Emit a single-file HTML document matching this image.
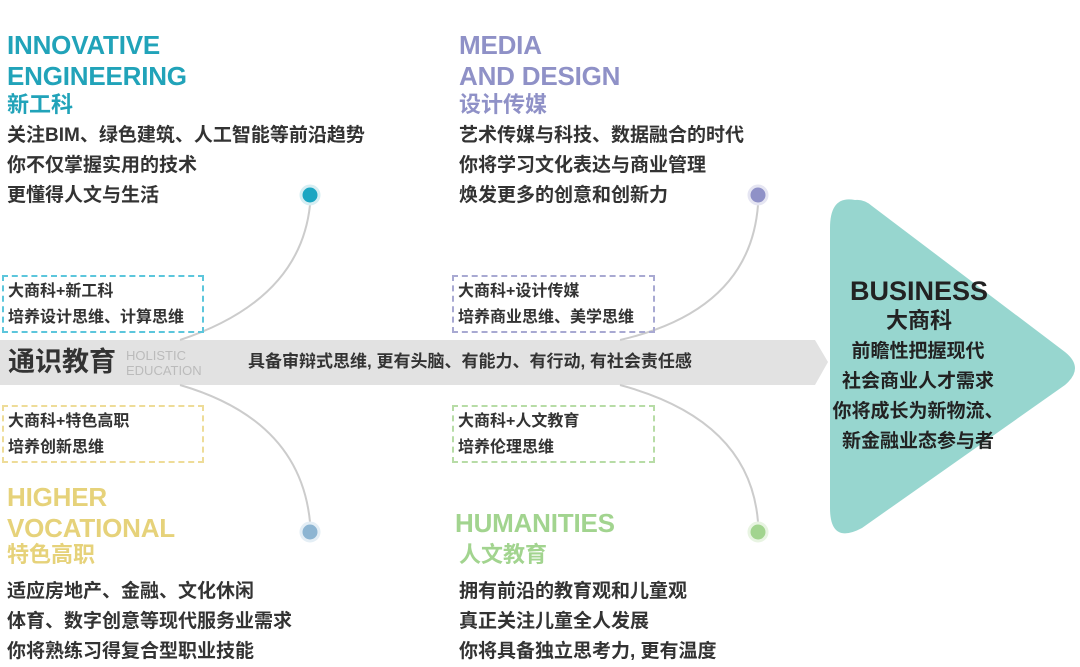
<!DOCTYPE html>
<html><head><meta charset="utf-8"><style>
body{margin:0;width:1080px;height:663px;background:#fff;position:relative;overflow:hidden;font-family:"Liberation Sans","Noto Sans CJK SC",sans-serif}
.a{position:absolute;white-space:nowrap}
.h{font-weight:bold;font-size:26px;letter-spacing:-0.2px;line-height:31px}
.c{font-size:22px;font-weight:bold;line-height:26px}
.b{font-size:19px;font-weight:bold;color:#333;line-height:30px}
.box{position:absolute;border:2px dashed;font-size:16px;font-weight:bold;color:#333;line-height:26px;padding:2px 4px;box-sizing:border-box}
</style></head><body>
<svg class="a" style="left:0;top:0" width="1080" height="663">
<path d="M0 340 L815 340 L828 362 L815 385 L0 385Z" fill="#e2e2e2"/>
<path d="M855 200 Q830 195 830 228 L830 508 Q830 545 862 528 L1065 385 Q1085 368 1065 352 L872 206 Q864 199 855 200Z" fill="#97d6cf"/>
<g fill="none" stroke="#ccc" stroke-width="2">
<path d="M180 340 Q300 300 310 205"/>
<path d="M620 340 Q750 310 758 205"/>
<path d="M180 385 Q300 420 310 522"/>
<path d="M620 385 Q750 420 758 522"/>
</g>
<circle cx="310" cy="195" r="9" fill="#1ba6c2" stroke="#d6eef3" stroke-width="3"/>
<circle cx="758" cy="195" r="9" fill="#8f91c7" stroke="#e5e5f2" stroke-width="3"/>
<circle cx="310" cy="532" r="9" fill="#8db5d2" stroke="#e4eef5" stroke-width="3"/>
<circle cx="758" cy="532" r="9" fill="#a2d48f" stroke="#e8f4e2" stroke-width="3"/>
</svg>

<div class="a h" style="left:7px;top:30px;color:#21a3b9">INNOVATIVE<br>ENGINEERING</div>
<div class="a c" style="left:7px;top:92px;color:#21a3b9">新工科</div>
<div class="a b" style="left:7px;top:121px">关注BIM、绿色建筑、人工智能等前沿趋势<br>你不仅掌握实用的技术<br>更懂得人文与生活</div>

<div class="a h" style="left:459px;top:30px;color:#8f91c7">MEDIA<br>AND DESIGN</div>
<div class="a c" style="left:459px;top:92px;color:#8f91c7">设计传媒</div>
<div class="a b" style="left:459px;top:121px">艺术传媒与科技、数据融合的时代<br>你将学习文化表达与商业管理<br>焕发更多的创意和创新力</div>

<div class="box" style="left:2px;top:275px;width:202px;height:58px;border-color:#5cc6dc">大商科+新工科<br>培养设计思维、计算思维</div>
<div class="box" style="left:452px;top:275px;width:203px;height:58px;border-color:#a8a9d2">大商科+设计传媒<br>培养商业思维、美学思维</div>
<div class="box" style="left:2px;top:405px;width:202px;height:58px;border-color:#eedc98">大商科+特色高职<br>培养创新思维</div>
<div class="box" style="left:452px;top:405px;width:203px;height:58px;border-color:#b7dca6">大商科+人文教育<br>培养伦理思维</div>

<div class="a" style="left:8px;top:344px;font-size:27px;font-weight:bold;color:#333;line-height:36px">通识教育</div>
<div class="a" style="left:126px;top:348px;font-size:13px;color:#bbb;line-height:15px">HOLISTIC<br>EDUCATION</div>
<div class="a" style="left:248px;top:351px;font-size:17px;font-weight:bold;color:#333;line-height:22px">具备审辩式思维, 更有头脑、有能力、有行动, 有社会责任感</div>

<div class="a h" style="left:7px;top:482px;color:#e6d27a">HIGHER<br>VOCATIONAL</div>
<div class="a c" style="left:7px;top:542px;color:#e6d27a">特色高职</div>
<div class="a b" style="left:7px;top:577px">适应房地产、金融、文化休闲<br>体育、数字创意等现代服务业需求<br>你将熟练习得复合型职业技能</div>

<div class="a h" style="left:455px;top:508px;color:#a2d48f">HUMANITIES</div>
<div class="a c" style="left:459px;top:542px;color:#a2d48f">人文教育</div>
<div class="a b" style="left:459px;top:577px">拥有前沿的教育观和儿童观<br>真正关注儿童全人发展<br>你将具备独立思考力, 更有温度</div>

<div class="a" style="left:834px;top:274px;width:170px;text-align:center;font-size:27px;font-weight:bold;color:#222;line-height:34px">BUSINESS</div>
<div class="a c" style="left:834px;top:308px;width:170px;text-align:center;color:#222">大商科</div>
<div class="a" style="left:820px;top:337px;width:196px;text-align:center;font-size:19px;font-weight:bold;color:#222;line-height:30px">前瞻性把握现代<br>社会商业人才需求<br>你将成长为新物流、<br>新金融业态参与者</div>
</body></html>
